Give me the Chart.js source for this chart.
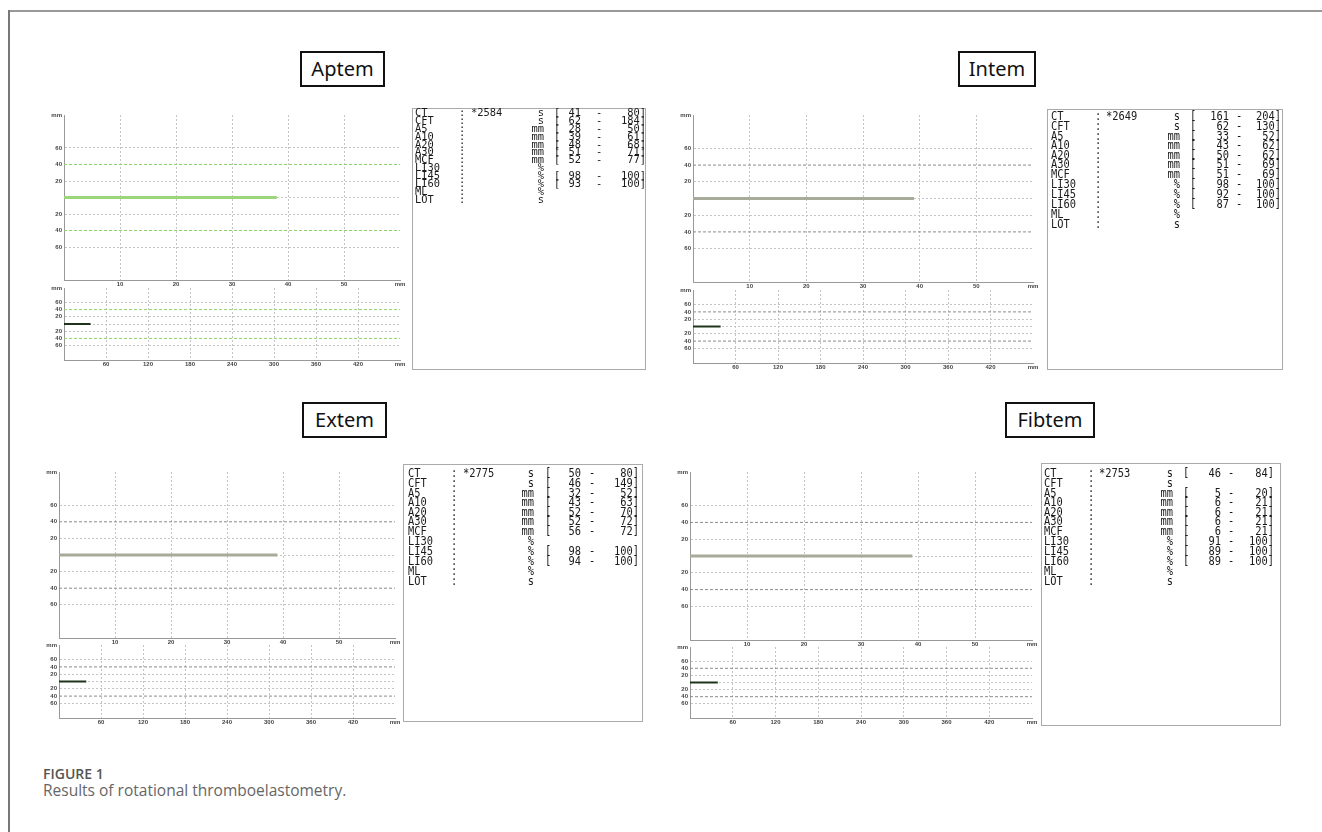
<!DOCTYPE html>
<html>
<head>
<meta charset="utf-8">
<script src="https://cdn.jsdelivr.net/npm/chart.js@4/dist/chart.umd.min.js"></script>
<style>
  html, body { margin: 0; padding: 0; background: #fff; }
  body { width: 1322px; height: 832px; position: relative; overflow: hidden; font-family: "Open Sans", "Noto Sans", sans-serif; }
  .frame-top { position: absolute; left: 9px; top: 10px; width: 1313px; height: 0; border-top: 2px solid #999; }
  .frame-left { position: absolute; left: 8px; top: 10px; width: 0; height: 822px; border-left: 2px solid #777; }
  .title { position: absolute; border: 2px solid #111; box-sizing: border-box; font-family: "Noto Sans", sans-serif; font-size: 20px; color: #111; text-align: center; line-height: 32px; }
  .plot { position: absolute; }
  .table { position: absolute; border: 1px solid #aaa; box-sizing: border-box; font-family: "DejaVu Sans Mono", monospace; font-size: 10.4px; color: #1a1a1a; }
  .rows { position: absolute; left: 0; width: 100%; transform-origin: 0 0; will-change: transform; -webkit-font-smoothing: antialiased; }
  .row { position: relative; height: 7.9px; line-height: 7.9px; white-space: pre; }
  .row span { position: absolute; top: 0; }
  .r { text-align: right; width: 60px; }
  .caption-label { position: absolute; left: 43px; top: 764px; font-size: 14px; font-weight: 600; color: #555; }
  .caption { position: absolute; left: 43px; top: 779px; font-size: 15.5px; color: #666; }
</style>
</head>
<body>
<div class="frame-top"></div>
<div class="frame-left"></div>
<div id="root"></div>
<div class="caption-label">FIGURE 1</div>
<div class="caption">Results of rotational thromboelastometry.</div>
<script>
// ROTEM traces: amplitude (mm) against time (min), flat line until the run stopped
const aptemTrace = [{ x: 0, y: 0 }, { x: 38, y: 0 }];
const intemTrace = [{ x: 0, y: 0 }, { x: 39, y: 0 }];
const extemTrace = [{ x: 0, y: 0 }, { x: 39, y: 0 }];
const fibtemTrace = [{ x: 0, y: 0 }, { x: 39, y: 0 }];

const yTickValues = [-100, -60, -40, -20, 0, 20, 40, 60, 100];
const upperTimeTicks = [0, 10, 20, 30, 40, 50, 60];
const lowerTimeTicks = [0, 60, 120, 180, 240, 300, 360, 420, 480];
const rangeLevels = [40, -40];

// result tables
const paramNames = ["CT", "CFT", "A5", "A10", "A20", "A30", "MCF", "LI30", "LI45", "LI60", "ML", "LOT"];
const paramUnits = ["s", "s", "mm", "mm", "mm", "mm", "mm", "%", "%", "%", "%", "s"];
const aptemValues = ["*2584", "", "", "", "", "", "", "", "", "", "", ""];
const aptemLow = [41, 62, 28, 39, 48, 51, 52, null, 98, 93, null, null];
const aptemHigh = [80, 184, 50, 61, 68, 71, 77, null, 100, 100, null, null];
const intemValues = ["*2649", "", "", "", "", "", "", "", "", "", "", ""];
const intemLow = [161, 62, 33, 43, 50, 51, 51, 98, 92, 87, null, null];
const intemHigh = [204, 130, 52, 62, 62, 69, 69, 100, 100, 100, null, null];
const extemValues = ["*2775", "", "", "", "", "", "", "", "", "", "", ""];
const extemLow = [50, 46, 32, 43, 52, 52, 56, null, 98, 94, null, null];
const extemHigh = [80, 149, 52, 63, 70, 72, 72, null, 100, 100, null, null];
const fibtemValues = ["*2753", "", "", "", "", "", "", "", "", "", "", ""];
const fibtemLow = [46, null, 5, 6, 6, 6, 6, 91, 89, 89, null, null];
const fibtemHigh = [84, null, 20, 21, 21, 21, 21, 100, 100, 100, null, null];

const panels = [
  {
    name: "Aptem", trace: aptemTrace, traceColor: "#9cd67a", rangeColor: "#8fd36c",
    title: [300, 51, 85, 36],
    upper: [64, 400, 115, 280], lower: [64, 400, 288, 360],
    table: { box: [412, 108, 234, 262], top: 0, scale: 1,
      cols: [2, 46, 58, 131, 141, 168, 186, 233],
      values: aptemValues, low: aptemLow, high: aptemHigh },
  },
  {
    name: "Intem", trace: intemTrace, traceColor: "#a7ab99", rangeColor: "#8a8a8a",
    title: [958, 51, 78, 36],
    upper: [693, 1033, 115, 282], lower: [693, 1033, 290, 363],
    table: { box: [1047, 109, 236, 261], top: 1, scale: 1.24,
      cols: [3, 47, 58, 132, 142, 181, 191, 233],
      values: intemValues, low: intemLow, high: intemHigh },
  },
  {
    name: "Extem", trace: extemTrace, traceColor: "#a7ab99", rangeColor: "#8a8a8a",
    title: [302, 402, 85, 36],
    upper: [59, 395, 472, 638], lower: [59, 395, 645, 718],
    table: { box: [403, 464, 240, 258], top: 3, scale: 1.24,
      cols: [4, 47, 59, 130, 141, 177, 188, 235],
      values: extemValues, low: extemLow, high: extemHigh },
  },
  {
    name: "Fibtem", trace: fibtemTrace, traceColor: "#a7ab99", rangeColor: "#8a8a8a",
    title: [1005, 402, 90, 36],
    upper: [690, 1032, 472, 640], lower: [690, 1032, 647, 718],
    table: { box: [1041, 463, 240, 263], top: 4, scale: 1.24,
      cols: [2, 46, 57, 131, 141, 179, 189, 232],
      values: fibtemValues, low: fibtemLow, high: fibtemHigh },
  },
];

const root = document.getElementById("root");
const Y_W = 14, X_H = 9, PAD_T = 4, PAD_R = 6;

function makePlot(rect, trace, timeTicks, p, traceColor, traceWidth) {
  const [L, R, T, B] = rect;
  const div = document.createElement("div");
  div.className = "plot";
  const w = R - L + Y_W + PAD_R, h = B - T + PAD_T + X_H;
  div.style.left = (L - Y_W) + "px";
  div.style.top = (T - PAD_T) + "px";
  const canvas = document.createElement("canvas");
  canvas.width = w; canvas.height = h;
  div.appendChild(canvas);
  root.appendChild(div);
  const xMax = timeTicks[timeTicks.length - 1];
  const datasets = rangeLevels.map((lv) => ({
    data: [{ x: 0, y: lv }, { x: xMax, y: lv }],
    borderColor: p.rangeColor, borderWidth: 1, borderDash: [3, 2],
    pointRadius: 0,
  }));
  datasets.push({
    data: trace, borderColor: traceColor, borderWidth: traceWidth, pointRadius: 0,
  });
  const tickFont = { family: "Liberation Sans", size: 6, weight: "bold" };
  new Chart(canvas, {
    type: "line",
    data: { datasets },
    options: {
      responsive: false, animation: false, devicePixelRatio: 1,
      layout: { padding: { top: PAD_T, right: PAD_R, left: 0, bottom: 0 } },
      plugins: { legend: { display: false }, tooltip: { enabled: false } },
      scales: {
        x: {
          type: "linear", min: 0, max: xMax,
          afterBuildTicks: (s) => { s.ticks = timeTicks.map((v) => ({ value: v })); },
          afterFit: (s) => { s.height = X_H; s.paddingLeft = 0; s.paddingRight = 0; },
          ticks: {
            font: tickFont, color: "#444", padding: 1, maxRotation: 0, autoSkip: false,
            callback: (v) => (v === xMax ? "mm" : v === 0 ? "" : v),
          },
          grid: {
            drawTicks: false, lineWidth: 1,
            color: (c) => (c.tick && (c.tick.value === 0 || c.tick.value === xMax) ? "rgba(0,0,0,0)" : "#c4c4c4"),
          },
          border: { display: true, color: "#999", width: 1, dash: [2, 2] },
        },
        y: {
          type: "linear", min: -100, max: 100,
          afterBuildTicks: (s) => { s.ticks = yTickValues.map((v) => ({ value: v })); },
          afterFit: (s) => { s.width = Y_W; s.paddingTop = 0; s.paddingBottom = 0; },
          ticks: {
            font: tickFont, color: "#444", padding: 2, autoSkip: false,
            callback: (v) => (v === 100 ? "mm" : v === 0 || v === -100 ? "" : Math.abs(v)),
          },
          grid: {
            drawTicks: false, lineWidth: 1,
            color: (c) => {
              const v = c.tick ? c.tick.value : 0;
              if (v === 100 || v === -100 || v === 40 || v === -40) return "rgba(0,0,0,0)";
              return "#c4c4c4";
            },
          },
          border: { display: true, color: "#999", width: 1, dash: [2, 2] },
        },
      },
    },
  });
}

function makeTable(t) {
  const [x, y, w, h] = t.box;
  const box = document.createElement("div");
  box.className = "table";
  Object.assign(box.style, { left: x + "px", top: y + "px", width: w + "px", height: h + "px" });
  const rows = document.createElement("div");
  rows.className = "rows";
  rows.style.top = t.top + "px";
  rows.style.transform = "scaleY(" + t.scale + ")";
  const c = t.cols;
  paramNames.forEach((name, i) => {
    const row = document.createElement("div");
    row.className = "row";
    const add = (text, left, right) => {
      const s = document.createElement("span");
      s.textContent = text;
      if (right) { s.className = "r"; s.style.left = (left - 60) + "px"; }
      else s.style.left = left + "px";
      row.appendChild(s);
    };
    add(name, c[0]);
    add(":", c[1]);
    if (t.values[i]) add(t.values[i], c[2]);
    add(paramUnits[i], c[3], true);
    if (t.low[i] !== null) {
      add("[", c[4]);
      add(String(t.low[i]), c[5], true);
      add("-", c[6] - 3);
      add(t.high[i] + "]", c[7], true);
    }
    rows.appendChild(row);
  });
  box.appendChild(rows);
  root.appendChild(box);
}

panels.forEach((p) => {
  const title = document.createElement("div");
  title.className = "title";
  const [tx, ty, tw, th] = p.title;
  Object.assign(title.style, { left: tx + "px", top: ty + "px", width: tw + "px", height: th + "px" });
  title.textContent = p.name;
  root.appendChild(title);
  makePlot(p.upper, p.trace, upperTimeTicks, p, p.traceColor, 3);
  makePlot(p.lower, p.trace, lowerTimeTicks, p, "#1f321c", 2);
  makeTable(p.table);
});
</script>
</body>
</html>
